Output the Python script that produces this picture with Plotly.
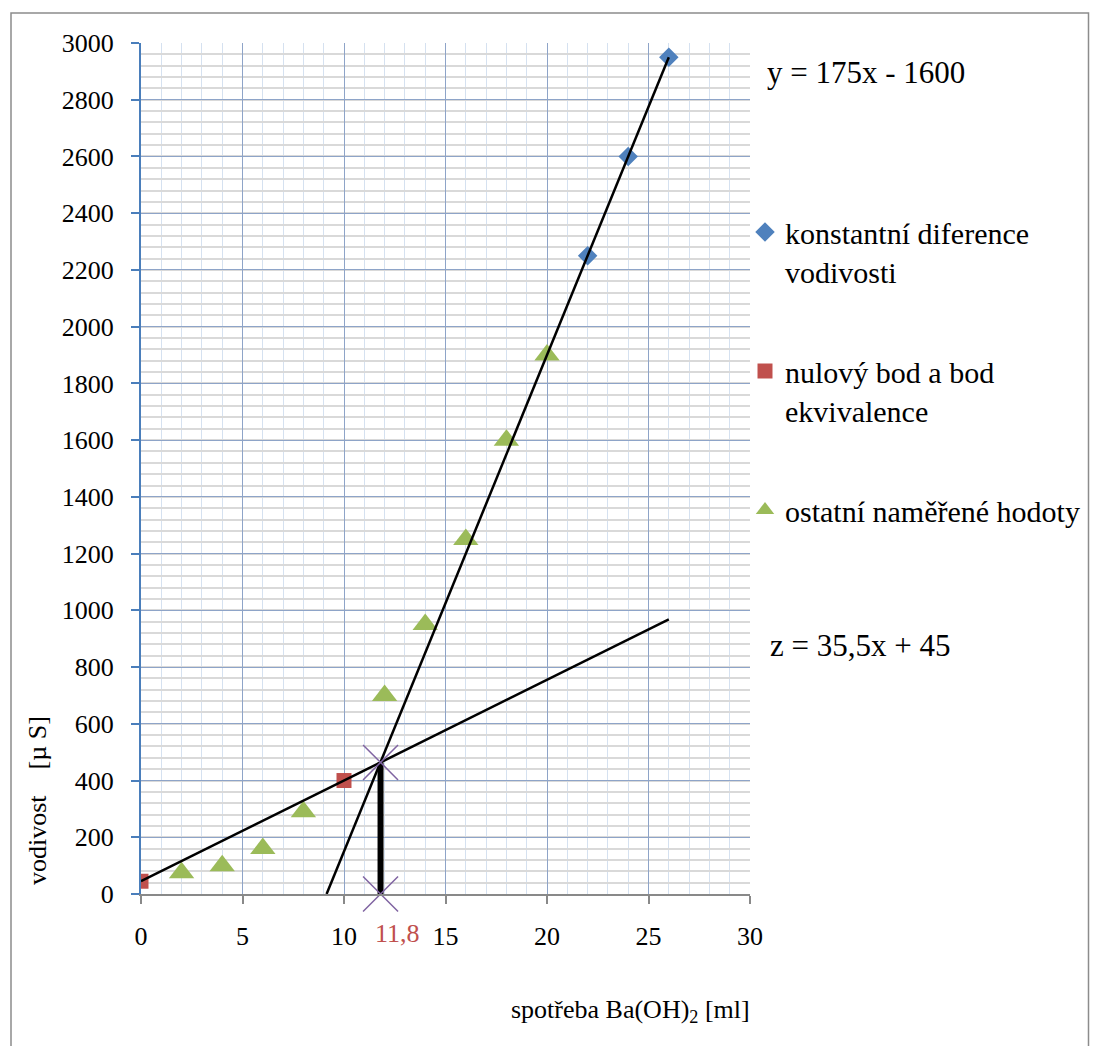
import plotly.graph_objects as go

# ---------------- data ----------------
blue_name = "konstantní diference<br>vodivosti"
blue_x = [22, 24, 26]
blue_y = [2250, 2600, 2950]

red_name = "nulový bod a bod<br>ekvivalence"
red_x = [0, 10]
red_y = [45, 400]

green_name = "ostatní naměřené hodoty"
green_x = [2, 4, 6, 8, 12, 14, 16, 18, 20]
green_y = [75, 100, 160, 290, 700, 950, 1250, 1600, 1900]

# fitted lines: y = k*x + q
fit1_k, fit1_q = 175, -1600
fit1_x = [1600 / 175, 26]
fit2_k, fit2_q = 35.5, 45
fit2_x = [0, 26]
equiv_x = 11.8
equiv_label = "11,8"
eq1_text = "y = 175x - 1600"
eq2_text = "z = 35,5x + 45"

x_ticks = [0, 5, 10, 15, 20, 25, 30]
y_ticks = list(range(0, 3001, 200))

x_title = "spotřeba Ba(OH)<sub>2</sub> [ml]"
y_title = "vodivost\u00a0\u00a0\u00a0\u00a0[\u00b5 S]"

# ---------------- layout helpers (screen pixel targets) ----------------
OFF = 8                      # page body margin
W, H = 1098 - 2 * OFF, 1054 - 2 * OFF
SL, SR, ST, SB = 141, 750, 43, 894   # plot area on screen


def px(sx):
    return (sx - SL) / (SR - SL)


def py(sy):
    return (SB - sy) / (SB - ST)


FONT = "Times New Roman"
BLUE = "#4f81bd"
RED = "#c0504d"
GREEN = "#9bbb59"
PURPLE = "#8064a2"

fig = go.Figure()

fig.add_trace(go.Scatter(
    x=blue_x, y=blue_y, mode="markers", name=blue_name, legendgroup="a",
    marker=dict(symbol="diamond", size=15, color=BLUE, line=dict(width=0))))
fig.add_trace(go.Scatter(
    x=red_x, y=red_y, mode="markers", name=red_name, legendgroup="b",
    marker=dict(symbol="square", size=15, color=RED, line=dict(width=0))))
fig.add_trace(go.Scatter(
    x=green_x, y=green_y, mode="markers", name=green_name, legendgroup="c",
    marker=dict(symbol="triangle-up", size=22, color=GREEN, line=dict(width=0))))

# regression lines
fig.add_trace(go.Scatter(
    x=fit1_x, y=[fit1_k * v + fit1_q for v in fit1_x], mode="lines",
    line=dict(color="black", width=2.5), showlegend=False, hoverinfo="skip"))
fig.add_trace(go.Scatter(
    x=fit2_x, y=[fit2_k * v + fit2_q for v in fit2_x], mode="lines",
    line=dict(color="black", width=2.5), showlegend=False, hoverinfo="skip"))

# equivalence point
equiv_y = fit2_k * equiv_x + fit2_q
fig.add_trace(go.Scatter(
    x=[equiv_x, equiv_x], y=[0, equiv_y], mode="lines",
    line=dict(color="black", width=6), showlegend=False, hoverinfo="skip"))
fig.add_trace(go.Scatter(
    x=[equiv_x, equiv_x], y=[equiv_y, 0], mode="markers",
    marker=dict(symbol="x-thin", size=35, color=PURPLE,
                line=dict(color=PURPLE, width=1.5)),
    showlegend=False, hoverinfo="skip", cliponaxis=False))

fig.update_xaxes(
    range=[0, 30], tickvals=x_ticks, ticktext=[str(v) for v in x_ticks],
    showgrid=True, gridcolor="#8ea4c8", gridwidth=1,
    minor=dict(dtick=1, showgrid=True, gridcolor="#d5e1f0", gridwidth=1),
    showline=True, linecolor="#898989", linewidth=2,
    ticks="outside", ticklen=8, tickwidth=2, tickcolor="#898989",
    ticklabelstandoff=10,
    tickfont=dict(family=FONT, size=26, color="black"),
    zeroline=False, fixedrange=True)
fig.update_yaxes(
    range=[0, 3000], tickvals=y_ticks, ticktext=[str(v) for v in y_ticks],
    showgrid=True, gridcolor="#8ea4c8", gridwidth=1,
    minor=dict(dtick=40, showgrid=True, gridcolor="#d9d9d9", gridwidth=1.5),
    showline=True, linecolor="#4a7ebb", linewidth=2,
    ticks="outside", ticklen=8, tickwidth=2, tickcolor="#4a7ebb",
    ticklabelstandoff=12,
    tickfont=dict(family=FONT, size=26, color="black"),
    zeroline=False, fixedrange=True)

annotations = [
    dict(text=eq1_text, x=px(765), y=py(72), xref="paper", yref="paper",
         xanchor="left", yanchor="middle", showarrow=False,
         font=dict(family=FONT, size=31, color="black")),
    dict(text=eq2_text, x=px(768), y=py(645), xref="paper", yref="paper",
         xanchor="left", yanchor="middle", showarrow=False,
         font=dict(family=FONT, size=31, color="black")),
    dict(text=equiv_label, x=equiv_x, xref="x", y=py(933), yref="paper",
         xanchor="center", yanchor="middle", xshift=17, showarrow=False,
         font=dict(family=FONT, size=26, color=RED)),
    dict(text=x_title, x=px(630), y=py(1011), xref="paper", yref="paper",
         xanchor="center", yanchor="middle", showarrow=False,
         font=dict(family=FONT, size=26, color="black")),
    dict(text=y_title, x=px(37), y=py(800), xref="paper", yref="paper",
         xanchor="center", yanchor="middle", textangle=-90, showarrow=False,
         font=dict(family=FONT, size=26, color="black")),
]

shapes = [
    dict(type="rect", xref="paper", yref="paper",
         x0=px(11), x1=px(1088.5), y0=py(1100), y1=py(13),
         line=dict(color="#8c8c8c", width=1.5), fillcolor="rgba(0,0,0,0)",
         layer="below"),
]

fig.update_layout(
    width=W, height=H,
    margin=dict(l=SL - OFF, r=W - (SR - OFF), t=ST - OFF, b=H - (SB - OFF),
                pad=0, autoexpand=False),
    paper_bgcolor="white", plot_bgcolor="white",
    font=dict(family=FONT, color="black"),
    showlegend=True,
    legend=dict(x=px(745), y=py(206), xanchor="left", yanchor="top",
                font=dict(family=FONT, size=30, color="black"),
                valign="top", tracegroupgap=58, bgcolor="rgba(0,0,0,0)",
                itemclick=False, itemdoubleclick=False),
    annotations=annotations, shapes=shapes,
)

fig.write_html("out.html")
